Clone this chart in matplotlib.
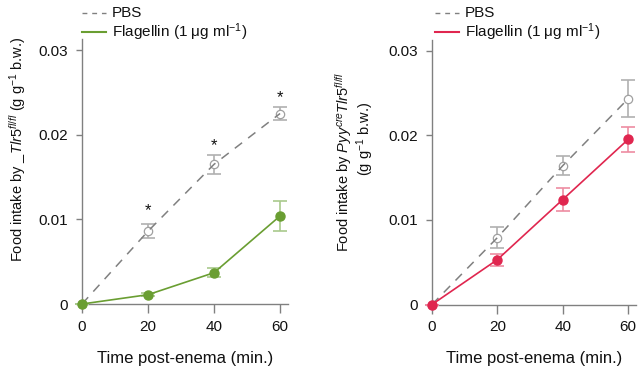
import matplotlib
matplotlib.use("Agg")
import matplotlib.pyplot as plt

plt.rcParams['font.family'] = ['Liberation Sans', 'DejaVu Sans']
plt.rcParams['mathtext.fontset'] = 'custom'
plt.rcParams['mathtext.rm'] = 'Liberation Sans'
plt.rcParams['mathtext.it'] = 'Liberation Sans:italic'

time = [0, 20, 40, 60]
xticks = [0, 20, 40, 60]
yticks = [0, 0.01, 0.02, 0.03]
ytick_labels = ['0', '0.01', '0.02', '0.03']

# Left panel: Tlr5 fl/fl
left_pbs = [0, 0.0086, 0.0165, 0.0225]
left_pbs_err = [0, 0.0008, 0.0011, 0.0008]
left_fla = [0, 0.0011, 0.0037, 0.0104]
left_fla_err = [0, 0.0002, 0.0005, 0.0018]
left_star_x = [20, 40, 60]
left_star_y = [0.0110, 0.0187, 0.0244]

# Right panel: Pyy cre Tlr5 fl/fl
right_pbs = [0, 0.0079, 0.0164, 0.0243]
right_pbs_err = [0, 0.0012, 0.0011, 0.0022]
right_fla = [0, 0.0053, 0.0124, 0.0195]
right_fla_err = [0, 0.0007, 0.0014, 0.0015]

W, H = 642.0, 371.0
fig = plt.figure(figsize=(6.42, 3.71), dpi=100)

def panel(rect, pbs, pbs_err, fla, fla_err, color, ecolor, legx, stars=None):
    ax = fig.add_axes(rect)
    ax.errorbar(time, pbs, yerr=pbs_err, fmt='none', ecolor='#b0b0b0', elinewidth=1.2,
                capsize=5, capthick=1.2, clip_on=False, zorder=2)
    ax.plot(time, pbs, ls='none', marker='o', ms=6, mfc='white', mec='#a0a0a0', mew=0.9,
            zorder=4, clip_on=False)
    ax.plot(time, pbs, color='#808080', ls=(0, (6, 5)), lw=1.1, zorder=5, clip_on=False)
    ax.errorbar(time, fla, yerr=fla_err, fmt='none', ecolor=ecolor, elinewidth=1.2,
                capsize=5, capthick=1.2, clip_on=False, zorder=6)
    ax.plot(time, fla, color=color, lw=1.2, marker='o', ms=6.5, mfc=color, mec=color,
            zorder=7, clip_on=False)
    if stars is not None:
        for sx, sy in zip(*stars):
            ax.text(sx, sy, '*', ha='center', va='center', fontsize=12, color='#111111')
    ax.set_xlim(0, 62.4)
    ax.set_ylim(0, 0.0313)
    ax.set_xticks(xticks)
    ax.set_xticklabels([str(t) for t in xticks])
    ax.set_yticks(yticks)
    ax.set_yticklabels(ytick_labels)
    for s in ['top', 'right']:
        ax.spines[s].set_visible(False)
    for s in ['left', 'bottom']:
        ax.spines[s].set_color('#808080')
        ax.spines[s].set_linewidth(1.0)
    ax.tick_params(axis='both', direction='out', width=1.0, color='#808080',
                   labelsize=11, labelcolor='#111111')
    ax.tick_params(axis='x', length=6.5, pad=5)
    ax.tick_params(axis='y', length=4, pad=6)
    ax.set_xlabel('Time post-enema (min.)', fontsize=12, color='#111111', labelpad=12)
    # legend drawn manually in figure coords
    y1, y2 = 1 - 13 / H, 1 - 32 / H
    fig.add_artist(plt.Line2D([legx / W, (legx + 24) / W], [y1, y1], color='#808080',
                              ls=(0, (3.5, 3.5)), lw=1.0))
    fig.add_artist(plt.Line2D([legx / W, (legx + 24) / W], [y2, y2], color=color, lw=1.5))
    fig.text((legx + 30) / W, y1, 'PBS', fontsize=11, va='center', ha='left', color='#111111')
    fig.text((legx + 30) / W, y2, 'Flagellin (1 μg ml$^{-1}$)', fontsize=11, va='center',
             ha='left', color='#111111')
    return ax

panel([82 / W, 1 - 304 / H, 206 / W, 265 / H], left_pbs, left_pbs_err,
      left_fla, left_fla_err, '#6a9e32', '#a9c98c', 82,
      stars=(left_star_x, left_star_y))
panel([432 / W, 1 - 304.5 / H, 204 / W, 265 / H], right_pbs, right_pbs_err,
      right_fla, right_fla_err, '#e0264f', '#ee8ca2', 435)

fig.text(23 / W, 1 - 149 / H,
         'Food intake by _$\\mathit{Tlr5}^{\\mathit{fl/fl}}$ (g g$^{-1}$ b.w.)',
         rotation=90, rotation_mode='anchor', ha='center', va='baseline',
         fontsize=10.5, color='#111111')
fig.text(349 / W, 1 - 162 / H,
         'Food intake by $\\mathit{Pyy}^{\\mathit{cre}}\\mathit{Tlr5}^{\\mathit{fl/fl}}$',
         rotation=90, rotation_mode='anchor', ha='center', va='baseline',
         fontsize=10.5, color='#111111')
fig.text(370 / W, 1 - 139 / H, '(g g$^{-1}$ b.w.)',
         rotation=90, rotation_mode='anchor', ha='center', va='baseline',
         fontsize=10.5, color='#111111')

fig.savefig('out.png', dpi=100)
